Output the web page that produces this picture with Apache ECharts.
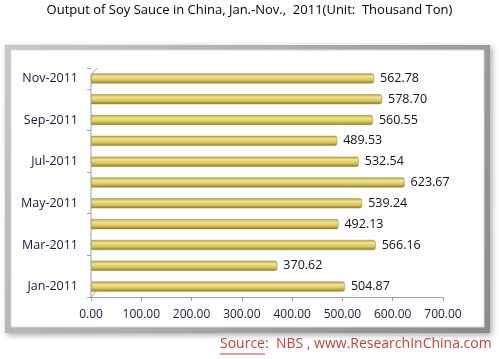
<!DOCTYPE html>
<html><head><meta charset="utf-8">
<script src="https://cdn.jsdelivr.net/npm/echarts@6/dist/echarts.min.js"></script>
<style>html,body{margin:0;padding:0;background:#fff}#c{width:499px;height:359px}</style>
</head><body><div id="c"></div>
<script>
var categories = ['Jan-2011','Feb-2011','Mar-2011','Apr-2011','May-2011','Jun-2011','Jul-2011','Aug-2011','Sep-2011','Oct-2011','Nov-2011'];
var values = [504.87, 370.62, 566.16, 492.13, 539.24, 623.67, 532.54, 489.53, 560.55, 578.70, 562.78];
var xTicks = [0, 100, 200, 300, 400, 500, 600, 700];

var font = 'Open Sans';
var srcFont = '14px "' + font + '"';
var cv = document.createElement('canvas').getContext('2d');
cv.font = srcFont;
var srcW = cv.measureText('Source').width;

var chart = echarts.init(document.getElementById('c'), null, {renderer:'canvas'});
chart.setOption({
  animation:false,
  graphic:[
    {type:'rect', z:-10, shape:{x:5,y:45,width:485,height:288},
     style:{fill:new echarts.graphic.LinearGradient(0,0,1,1,[{offset:0,color:'#c8c8c8'},{offset:1,color:'#8a8a8a'}]),
            shadowBlur:6, shadowColor:'rgba(0,0,0,0.35)', shadowOffsetX:2, shadowOffsetY:2}},
    {type:'rect', z:-9, shape:{x:11,y:50,width:473,height:277}, style:{fill:'#ffffff', stroke:'#d8d8d8', lineWidth:1}},
    {type:'polyline', z:5, shape:{points:[[91,297],[91,75],[97,68]]}, style:{stroke:'#a0a0a0', lineWidth:1, fill:null}},
    {type:'polyline', z:5, shape:{points:[[91,297],[97,290]]}, style:{stroke:'#a0a0a0', lineWidth:1, fill:null}},
    {type:'text', left:'center', top:4, style:{text:'Output of Soy Sauce in China, Jan.-Nov.,  2011(Unit:  Thousand Ton)', font:'13px "'+font+'"', fill:'#000'}},
    {type:'text', left:220, top:337, style:{text:'Source:  NBS , www.ResearchInChina.com', font:srcFont, fill:'#c0403f'}},
    {type:'line', shape:{x1:220,y1:354,x2:220+srcW,y2:354}, style:{stroke:'#c0403f', lineWidth:1}}
  ],
  grid:{left:91, right:56, top:68, bottom:62, containLabel:false},
  xAxis:{type:'value', min:0, max:700, interval:100,
    axisLine:{show:true, lineStyle:{color:'#a0a0a0'}},
    axisTick:{show:true, length:4, lineStyle:{color:'#a0a0a0'}},
    splitLine:{show:false},
    axisLabel:{margin:12, color:'#1a1a3a', fontFamily:font, fontSize:12,
      formatter:function(v){return v.toFixed(2);}}
  },
  yAxis:{type:'category', data:categories,
    axisLine:{show:false},
    axisTick:{show:true, length:4, interval:1, lineStyle:{color:'#a0a0a0'}},
    axisLabel:{interval:1, margin:13, color:'#1a1a3a', fontFamily:font, fontSize:12.5}
  },
  series:[{type:'bar', data:values, barWidth:10,
    itemStyle:{color:new echarts.graphic.LinearGradient(0,0,0,1,[
      {offset:0,color:'#b4a040'},{offset:0.3,color:'#f2e294'},{offset:0.65,color:'#dcc55c'},{offset:1,color:'#8c7a2c'}]),
      borderRadius:[0,2,2,0], borderColor:'#9c8830', borderWidth:0.5},
    label:{show:true, position:'right', distance:6, color:'#111', fontFamily:font, fontSize:12.5,
      formatter:function(p){return p.value.toFixed(2);}}
  }]
});
</script></body></html>
